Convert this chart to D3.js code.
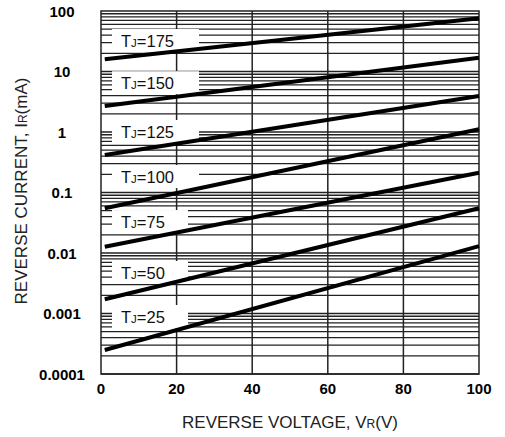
<!DOCTYPE html>
<html>
<head>
<meta charset="utf-8">
<script src="https://cdn.jsdelivr.net/npm/d3@7"></script>
<style>
body { margin: 0; background: #fff; }
svg text { font-family: Arial, "Liberation Sans", sans-serif; }
</style>
</head>
<body>
<svg id="chart" width="505" height="437"></svg>
<script>
// data
var voltage = [1, 100];
var temps = [175, 150, 125, 100, 75, 50, 25];
var currentStart = [15.9, 2.69, 0.417, 0.0548, 0.0127, 0.00172, 0.000249];
var currentEnd = [75.7, 16.9, 3.94, 1.11, 0.212, 0.0548, 0.013];
var labelAt = [31.9, 6.4, 1.0, 0.18, 0.0325, 0.00467, 0.000875];
var xTicks = [0, 20, 40, 60, 80, 100];
var yTicks = [0.0001, 0.001, 0.01, 0.1, 1, 10, 100];
var yTickLabels = ["0.0001", "0.001", "0.01", "0.1", "1", "10", "100"];

var plot = {left: 101, right: 479, top: 11, bottom: 374};
var svg = d3.select("#chart");

var xScale = d3.scaleLinear().domain([0, 100]).range([plot.left, plot.right]);
var yScale = d3.scaleLog().domain([0.0001, 100]).range([plot.bottom, plot.top]);

// horizontal grid at every minor decade step
var gridVals = [];
for (var d = 0; d < yTicks.length - 1; ++d) {
	for (var k = 1; k <= 9; ++k) {
		gridVals.push(yTicks[d] * k);
	}
}
var grid = svg.append("g").attr("id", "grid");
grid.selectAll("line.h")
	.data(gridVals)
	.enter().append("line")
	.attr("class", "h")
	.attr("x1", plot.left).attr("x2", plot.right)
	.attr("y1", function(d){ return yScale(d); })
	.attr("y2", function(d){ return yScale(d); })
	.attr("stroke", "#222")
	.attr("stroke-width", 1.3);
grid.selectAll("line.v")
	.data(xTicks.slice(1, -1))
	.enter().append("line")
	.attr("class", "v")
	.attr("x1", function(d){ return xScale(d); })
	.attr("x2", function(d){ return xScale(d); })
	.attr("y1", plot.top).attr("y2", plot.bottom)
	.attr("stroke", "#222")
	.attr("stroke-width", 1.5);

// white label boxes cover the grid
var boxes = svg.append("g").attr("id", "boxes");
boxes.selectAll("rect")
	.data(temps)
	.enter().append("rect")
	.attr("x", 112)
	.attr("y", function(d, i){ return yScale(labelAt[i]) - 12; })
	.attr("width", function(d){ return d >= 100 ? 87 : 76; })
	.attr("height", 23)
	.attr("fill", "#fff");

// frame
svg.append("rect")
	.attr("x", plot.left).attr("y", plot.top)
	.attr("width", plot.right - plot.left)
	.attr("height", plot.bottom - plot.top)
	.attr("fill", "none")
	.attr("stroke", "#222")
	.attr("stroke-width", 1.5);

// curves
var lineGenerator = d3.line()
	.x(function(d){ return xScale(d[0]); })
	.y(function(d){ return yScale(d[1]); });
svg.append("g").attr("id", "curves")
	.selectAll("path")
	.data(temps)
	.enter().append("path")
	.attr("d", function(d, i){
		return lineGenerator([[voltage[0], currentStart[i]], [voltage[1], currentEnd[i]]]);
	})
	.attr("fill", "none")
	.attr("stroke", "#000")
	.attr("stroke-width", 4);

// labels
var labels = svg.append("g").attr("id", "labels")
	.selectAll("text")
	.data(temps)
	.enter().append("text")
	.attr("x", 121)
	.attr("y", function(d, i){ return yScale(labelAt[i]) + 6; })
	.attr("font-size", 16.5)
	.attr("fill", "#111");
labels.append("tspan").text("T");
labels.append("tspan").attr("font-size", 11.5).text("J");
labels.append("tspan").text(function(d){ return "=" + d; });

// tick labels
svg.append("g").selectAll("text")
	.data(yTicks)
	.enter().append("text")
	.attr("x", 62)
	.attr("y", function(d){ return yScale(d) + 5.5; })
	.attr("text-anchor", "middle")
	.attr("font-size", 15)
	.attr("font-weight", "bold")
	.text(function(d, i){ return yTickLabels[i]; });
svg.append("g").selectAll("text")
	.data(xTicks)
	.enter().append("text")
	.attr("x", function(d){ return xScale(d); })
	.attr("y", 394)
	.attr("text-anchor", "middle")
	.attr("font-size", 15)
	.attr("font-weight", "bold")
	.text(function(d){ return d; });

// axis titles
var xt = svg.append("text")
	.attr("x", 290).attr("y", 428)
	.attr("text-anchor", "middle")
	.attr("font-size", 17)
	.attr("fill", "#222");
xt.append("tspan").text("REVERSE VOLTAGE, V");
xt.append("tspan").attr("font-size", 12).text("R");
xt.append("tspan").text("(V)");

var yt = svg.append("text")
	.attr("transform", "translate(27,191) rotate(-90)")
	.attr("text-anchor", "middle")
	.attr("font-size", 17)
	.attr("fill", "#222");
yt.append("tspan").text("REVERSE CURRENT, I");
yt.append("tspan").attr("font-size", 12).text("R");
yt.append("tspan").text("(mA)");
</script>
</body>
</html>
